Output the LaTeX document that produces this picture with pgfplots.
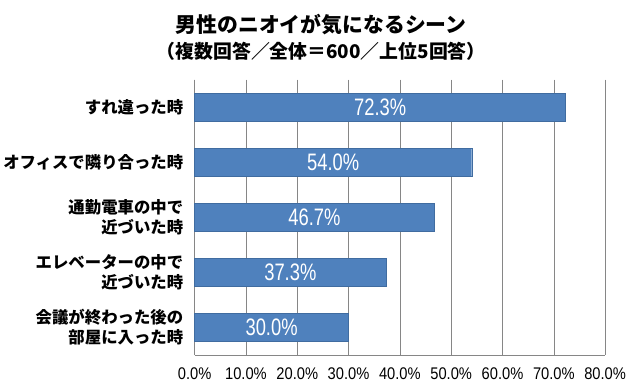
\documentclass[border=0pt]{standalone}
\usepackage{fontspec}
\setmainfont{Noto Sans CJK JP}
\newfontfamily\narrow[FakeStretch=0.87]{Liberation Sans}
\newfontfamily\narrowb[FakeStretch=0.77]{Liberation Sans}
\usepackage{pgfplots}
\usepackage{pgfplotstable}
\pgfplotsset{compat=1.18}
\definecolor{barblue}{RGB}{79,129,189}
\definecolor{baredge}{RGB}{64,108,160}
\definecolor{gridgray}{RGB}{134,134,134}
\pgfplotstableread{
y v
0 72.3
1 54.0
2 46.7
3 37.3
4 30.0
}\datatable
\begin{document}
\begin{tikzpicture}[x=1bp,y=1bp]
\path (0,0) rectangle (640,392);
\node[font=\bfseries\fontsize{21}{24}\selectfont] at (320,367) {男性のニオイが気になるシーン};
\node[font=\bfseries\fontsize{19}{22}\selectfont] at (320,340) {（複数回答／全体＝600／上位5回答）};
\begin{axis}[
  at={(193bp,36bp)}, anchor=south west,
  scale only axis, width=412bp, height=276bp,
  xmin=0, xmax=80, xtick={0,10,...,80},
  ymin=-0.5, ymax=4.5, y dir=reverse,
  ytick={0,1,2,3,4},
  yticklabels={すれ違った時, オフィスで隣り合った時, 通勤電車の中で\\近づいた時, エレベーターの中で\\近づいた時, 会議が終わった後の\\部屋に入った時},
  yticklabel style={align=right, font=\bfseries\fontsize{16.5}{20}\selectfont, xshift=-8bp},
  xticklabel style={font=\narrow\fontsize{17}{18}\selectfont, yshift=-10bp},
  xticklabel={\pgfmathprintnumber[fixed,precision=1,zerofill]{\tick}\%},
  /pgf/number format/assume math mode=true,
  axis x line*=bottom, axis y line*=left,
  axis line style={gridgray},
  xmajorgrids, major grid style={gridgray, line width=0.6pt},
  major tick length=0pt,
  tick style={draw=none},
  clip=false,
]
\addplot[xbar, bar width=28bp, bar shift=0pt, fill=barblue, draw=baredge] table[x=v, y=y] {\datatable};
\addplot[draw=none, mark=none,
  nodes near coords={\pgfmathprintnumber[fixed,precision=1,zerofill]{\pgfplotspointmeta}\%},
  nodes near coords style={anchor=center, text=white, font=\narrowb\fontsize{24}{26}\selectfont, /pgf/number format/assume math mode=true},
  point meta=explicit]
  table[x expr=\thisrow{v}/2, y=y, meta=v] {\datatable};
\end{axis}
\end{tikzpicture}
\end{document}
